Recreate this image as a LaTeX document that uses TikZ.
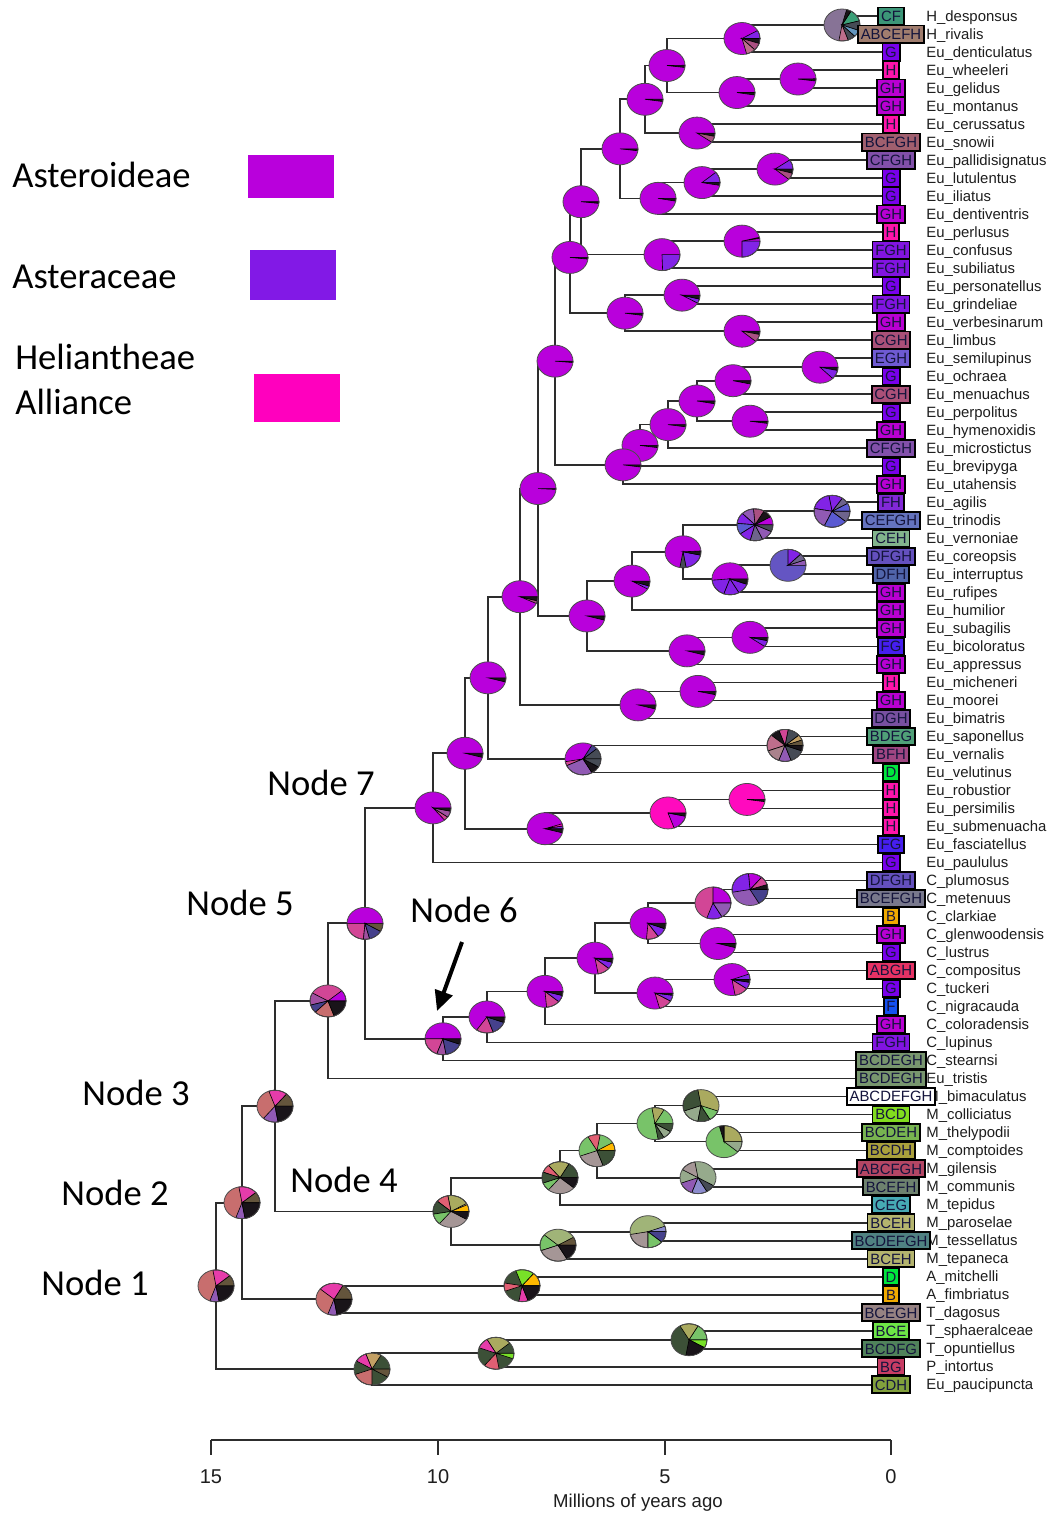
\documentclass[tikz,border=0pt]{standalone}
\usepackage{fontspec}
\setmainfont{Liberation Sans}
\newfontfamily\calfont{Carlito}
\usetikzlibrary{calc,arrows.meta}
% pie colours
\definecolor{cP}{RGB}{185,0,220}
\definecolor{cV}{RGB}{130,35,230}
\definecolor{cHP}{RGB}{255,10,190}
\definecolor{cK}{RGB}{25,20,25}
\definecolor{cM}{RGB}{170,80,130}
\definecolor{cPK}{RGB}{210,70,150}
\definecolor{cSL}{RGB}{200,110,110}
\definecolor{cLV}{RGB}{145,90,180}
\definecolor{cSB}{RGB}{100,85,195}
\definecolor{cGP}{RGB}{165,150,150}
\definecolor{cGR}{RGB}{120,195,105}
\definecolor{cKH}{RGB}{170,170,95}
\definecolor{cKG}{RGB}{160,180,120}
\definecolor{cDG}{RGB}{60,80,55}
\definecolor{cTE}{RGB}{60,160,120}
\definecolor{cBL}{RGB}{100,150,190}
\definecolor{cDK}{RGB}{70,75,85}
\definecolor{cPI}{RGB}{190,110,140}
\definecolor{cBU}{RGB}{90,90,210}
\definecolor{cMG}{RGB}{110,100,140}
\definecolor{cOR}{RGB}{255,185,0}
\definecolor{cLI}{RGB}{120,225,40}
\definecolor{cSA}{RGB}{225,95,115}
\definecolor{cTA}{RGB}{195,160,100}
\definecolor{cBR}{RGB}{100,85,60}
\definecolor{cGG}{RGB}{150,170,140}
\definecolor{cLB}{RGB}{140,140,205}
\definecolor{cDB}{RGB}{70,65,140}
\definecolor{cGPu}{RGB}{135,115,150}
\definecolor{cGPk}{RGB}{170,130,140}
\definecolor{cMv}{RGB}{160,80,160}
\definecolor{cHPk}{RGB}{230,60,170}
% range colours
\definecolor{rCF}{RGB}{60,150,120}
\definecolor{rABCEFH}{RGB}{160,125,110}
\definecolor{rG}{RGB}{120,0,235}
\definecolor{rH}{RGB}{255,20,170}
\definecolor{rGH}{RGB}{185,0,210}
\definecolor{rBCFGH}{RGB}{160,95,110}
\definecolor{rCFGH}{RGB}{130,80,170}
\definecolor{rFGH}{RGB}{130,20,225}
\definecolor{rCGH}{RGB}{170,80,120}
\definecolor{rEGH}{RGB}{110,90,210}
\definecolor{rFH}{RGB}{130,40,215}
\definecolor{rCEFGH}{RGB}{100,115,190}
\definecolor{rCEH}{RGB}{130,180,140}
\definecolor{rDFGH}{RGB}{100,80,190}
\definecolor{rDFH}{RGB}{80,100,170}
\definecolor{rFG}{RGB}{70,30,240}
\definecolor{rDGH}{RGB}{120,80,160}
\definecolor{rBDEG}{RGB}{80,160,120}
\definecolor{rBFH}{RGB}{160,70,130}
\definecolor{rD}{RGB}{0,230,60}
\definecolor{rB}{RGB}{240,170,0}
\definecolor{rBCEFGH}{RGB}{120,120,140}
\definecolor{rABGH}{RGB}{230,50,100}
\definecolor{rF}{RGB}{20,80,240}
\definecolor{rBCDEGH}{RGB}{120,150,110}
\definecolor{rABCDEFGH}{RGB}{255,255,255}
\definecolor{rBCD}{RGB}{130,220,30}
\definecolor{rBCDEH}{RGB}{120,180,80}
\definecolor{rBCDH}{RGB}{170,160,60}
\definecolor{rABCFGH}{RGB}{180,70,100}
\definecolor{rBCEFH}{RGB}{110,130,110}
\definecolor{rCEG}{RGB}{70,170,180}
\definecolor{rBCEH}{RGB}{180,180,110}
\definecolor{rBCDEFGH}{RGB}{80,130,130}
\definecolor{rBCEGH}{RGB}{150,130,130}
\definecolor{rBCE}{RGB}{110,230,70}
\definecolor{rBCDFG}{RGB}{80,130,90}
\definecolor{rBG}{RGB}{200,60,100}
\definecolor{rCDH}{RGB}{130,160,60}
\definecolor{treeline}{RGB}{45,45,45}
\definecolor{legA}{RGB}{185,0,220}
\definecolor{legB}{RGB}{130,25,230}
\definecolor{legC}{RGB}{255,0,190}
\definecolor{boxtext}{RGB}{20,20,60}
\definecolor{nametext}{RGB}{30,30,30}
\newcommand\nd[4]{\coordinate (#1) at ($(#2,0 |- #3)!0.5!(#2,0 |- #4)$);
  \draw[edge] (#1) |- (#3); \draw[edge] (#1) |- (#4);}
\newcommand\piec[3]{%
  \fill[#2] (#1) ellipse [x radius=18, y radius=16];
  \foreach \sa/\sb/\sc in {#3}{%
    \filldraw[fill=\sc, draw=black, line width=0.3pt] (#1) -- ++(\sa:18 and 16)
      arc[start angle=\sa, end angle=\sb, x radius=18, y radius=16] -- cycle;}
  \draw[draw=black!70, line width=0.4pt] (#1) ellipse [x radius=18, y radius=16];}
\begin{document}
\begin{tikzpicture}[x=0.5pt,y=0.5pt,
  edge/.style={draw=treeline, line width=0.85pt},
  tipbox/.style={draw=black, line width=0.9pt, inner xsep=1.4pt, inner ysep=0pt,
    minimum height=8.6pt, text height=5.35pt, text depth=0pt, text=boxtext,
    font=\fontsize{7.45}{8}\selectfont},
  tipname/.style={anchor=base west, inner sep=0pt, text=nametext, font=\fontsize{7.45}{8}\selectfont},
  biglabel/.style={anchor=west, inner sep=0pt, font=\calfont\fontsize{18.3}{22}\selectfont},
  legbox/.style={draw=none}]
\useasboundingbox (0,0) rectangle (1054,-1515);
\fill[white] (0,0) rectangle (1054,-1515);
% tips
\foreach \i in {1,...,77} \coordinate (t\i) at (891,{-(16+18.01*(\i-1))});
% internal nodes (parent from children)
\nd{a1}{842}{t1}{t2}
\nd{a2}{742}{a1}{t3}
\nd{a3}{798}{t4}{t5}
\nd{a4}{737}{a3}{t6}
\nd{a5}{667}{a2}{a4}
\nd{a6}{697}{t7}{t8}
\nd{a7}{645}{a5}{a6}
\nd{a8}{775}{t9}{t10}
\nd{a9}{702}{a8}{t11}
\nd{a10}{658}{a9}{t12}
\nd{a11}{620}{a7}{a10}
\nd{a12}{742}{t13}{t14}
\nd{a13}{662}{a12}{t15}
\nd{a14}{581}{a11}{a13}
\nd{a15}{682}{t16}{t17}
\nd{a16}{742}{t18}{t19}
\nd{a17}{625}{a15}{a16}
\nd{a18}{570}{a14}{a17}
\nd{b1}{820}{t20}{t21}
\nd{b2}{733}{b1}{t22}
\nd{b3}{750}{t23}{t24}
\nd{b4}{697}{b2}{b3}
\nd{b5}{668}{b4}{t25}
\nd{b6}{640}{b5}{t26}
\nd{b7}{623}{b6}{t27}
\nd{b8}{555}{a18}{b7}
\nd{c1}{832}{t28}{t29}
\nd{c2}{755}{c1}{t30}
\nd{c3}{788}{t31}{t32}
\nd{c4}{730}{c3}{t33}
\nd{c5}{683}{c2}{c4}
\nd{c6}{632}{c5}{t34}
\nd{c7}{750}{t35}{t36}
\nd{c8}{687}{c7}{t37}
\nd{c9}{587}{c6}{c8}
\nd{d1}{538}{b8}{c9}
\nd{c10}{698}{t38}{t39}
\nd{c11}{638}{c10}{t40}
\nd{d2}{520}{d1}{c11}
\nd{e1}{785}{t41}{t42}
\nd{e2}{583}{e1}{t43}
\nd{d3}{488}{d2}{e2}
\nd{e3}{747}{t44}{t45}
\nd{e4}{668}{e3}{t46}
\nd{e5}{545}{e4}{t47}
\nd{d4}{465}{d3}{e5}
\nd{n7}{433}{d4}{t48}
\nd{f1}{750}{t49}{t50}
\nd{f2}{713}{f1}{t51}
\nd{f3}{718}{t52}{t53}
\nd{f4}{648}{f2}{f3}
\nd{f5}{732}{t54}{t55}
\nd{f6}{655}{f5}{t56}
\nd{f7}{595}{f4}{f6}
\nd{f8}{545}{f7}{t57}
\nd{f9}{487}{f8}{t58}
\nd{n6}{443}{f9}{t59}
\nd{n5}{365}{n7}{n6}
\nd{g1}{328}{n5}{t60}
\nd{h1}{701}{t61}{t62}
\nd{h2}{724}{t63}{t64}
\nd{h3}{655}{h1}{h2}
\nd{h4}{698}{t65}{t66}
\nd{h5}{597}{h3}{h4}
\nd{h6}{560}{h5}{t67}
\nd{h7}{648}{t68}{t69}
\nd{h8}{558}{h7}{t70}
\nd{n4}{451}{h6}{h8}
\nd{n3}{275}{g1}{n4}
\nd{i1}{522}{t71}{t72}
\nd{i2}{334}{i1}{t73}
\nd{n2}{242}{n3}{i2}
\nd{j1}{689}{t74}{t75}
\nd{j2}{496}{j1}{t76}
\nd{j3}{372}{j2}{t77}
\nd{n1}{216}{n2}{j3}
% pies
\piec{a1}{cGPu}{15/60/cTE,60/75/cK,-20/15/cDK,-45/-20/cBL,-70/-45/cDK,-100/-70/cPI}
\piec{a2}{cP}{0/30/cV,-18/0/cK,-45/-18/cM,-75/-45/cPI}
\piec{a3}{cP}{-7/1/cK}
\piec{a4}{cP}{-9/0/cK}
\piec{a5}{cP}{-7/1/cK}
\piec{a6}{cP}{-12/0/cK,-35/-12/cM}
\piec{a7}{cP}{-8/0/cK}
\piec{a8}{cP}{0/35/cV,-15/0/cK,-40/-15/cM}
\piec{a9}{cP}{0/40/cV,-10/0/cK}
\piec{a10}{cP}{-10/0/cK}
\piec{a11}{cP}{-7/0/cK}
\piec{a12}{cP}{-90/0/cV,10/14/cHP}
\piec{a13}{cP}{-88/0/cV}
\piec{a14}{cP}{-6/0/cK}
\piec{a15}{cP}{-30/-14/cV,-14/0/cK}
\piec{a16}{cP}{-12/0/cK,-40/-12/cM}
\piec{a17}{cP}{-8/0/cK}
\piec{a18}{cP}{-6/0/cK}
\piec{b1}{cP}{-12/0/cK,-45/-12/cV}
\piec{b2}{cP}{-12/0/cK}
\piec{b3}{cP}{-8/0/cK}
\piec{b4}{cP}{-10/0/cK}
\piec{b5}{cP}{-8/0/cK}
\piec{b6}{cP}{-8/0/cK}
\piec{b7}{cP}{-8/0/cK}
\piec{b8}{cP}{-5/0/cK}
\piec{c1}{cV}{0/30/cBU,30/55/cMG,55/100/cV,100/170/cV,170/245/cLV,245/320/cBU,320/360/cMG}
\piec{c2}{cP}{30/60/cK,60/95/cM,95/135/cLV,135/175/cV,175/215/cBU,215/255/cV,255/295/cMG,295/335/cLV,335/360/cDK}
\piec{c3}{cSB}{0/20/cLV,20/45/cMG,45/90/cV}
\piec{c4}{cP}{185/250/cV,250/300/cV,300/340/cV,340/360/cK}
\piec{c5}{cP}{-80/-12/cV,-12/3/cK,-100/-80/cDK}
\piec{c6}{cP}{-30/-18/cV,-18/0/cK}
\piec{c7}{cP}{-35/-12/cV,-12/0/cK}
\piec{c8}{cP}{-15/0/cK}
\piec{c9}{cP}{-15/0/cK}
\piec{c10}{cP}{-12/0/cK}
\piec{c11}{cP}{-15/0/cK}
\piec{d1}{cP}{-3/0/cK}
\piec{d2}{cP}{-25/-15/cM,-15/0/cK}
\piec{d3}{cP}{-15/0/cK}
\piec{d4}{cP}{-15/0/cK}
\piec{e1}{cDK}{0/20/cBR,20/40/cTA,40/80/cDK,80/110/cPK,110/140/cK,140/200/cPI,200/250/cGPk,250/290/cLV,290/340/cDK,340/360/cK}
\piec{e2}{cP}{0/40/cDK,40/60/cDB,190/205/cPK,205/300/cLV,300/330/cK,330/360/cDK}
\piec{e3}{cHP}{-8/0/cK}
\piec{e4}{cHP}{-70/-12/cP,-12/0/cK}
\piec{e5}{cP}{-15/0/cK,0/10/cV,10/18/cHP}
\piec{n7}{cP}{-50/-35/cPK,-35/-12/cMv,-12/0/cK}
\piec{f1}{cLV}{0/18/cK,18/50/cPK,50/95/cP,95/190/cV,300/360/cDB}
\piec{f2}{cPK}{0/90/cP,250/300/cV,300/360/cLV}
\piec{f3}{cP}{-15/0/cK}
\piec{f4}{cP}{-95/-55/cPK,-55/-20/cV,-20/0/cK}
\piec{f5}{cP}{-80/-35/cPK,-35/-10/cV,-10/0/cK,0/20/cV}
\piec{f6}{cP}{-75/-30/cPK,-30/-8/cV,-8/0/cK}
\piec{f7}{cP}{-80/-40/cPK,-40/-15/cV,-15/0/cK}
\piec{f8}{cP}{-85/-40/cPK,-40/-15/cV,-15/0/cK}
\piec{f9}{cP}{235/290/cPK,290/340/cDB,340/360/cK}
\piec{n6}{cP}{180/250/cPK,250/280/cMv,280/340/cDB,340/360/cK}
\piec{n5}{cP}{180/265/cPK,265/285/cMv,285/330/cDB,330/360/cBR}
\piec{g1}{cPK}{0/40/cP,150/195/cMv,195/225/cDB,225/290/cSL,290/360/cK}
\piec{n3}{cSL}{0/50/cBR,50/110/cHPk,230/280/cLV,280/360/cK}
\piec{n2}{cSL}{0/40/cBR,40/100/cHPk,250/280/cLV,280/360/cK}
\piec{n1}{cSL}{0/40/cBR,40/100/cHPk,250/280/cLV,280/360/cK}
\piec{i2}{cSL}{0/60/cBR,60/140/cHPk,250/280/cLV,280/360/cK}
\piec{i1}{cDG}{0/50/cOR,50/110/cLI,170/200/cSA,260/290/cHPk,290/360/cK}
\piec{j3}{cDG}{60/110/cTA,110/150/cHPk,200/270/cSL,330/360/cBR}
\piec{j2}{cDG}{40/120/cKH,120/160/cHPk,230/280/cSA,340/360/cLI}
\piec{j1}{cDG}{-30/0/cLI,0/60/cGR,60/120/cKH,260/330/cK}
\piec{n4}{cGP}{0/25/cOR,30/100/cKH,100/140/cSA,140/190/cDG,190/230/cGR,330/360/cK}
\piec{h6}{cGP}{0/60/cDG,60/130/cKH,130/160/cSA,160/200/cDG,200/230/cGR,320/360/cK}
\piec{h5}{cGR}{0/30/cOR,80/120/cSA,200/290/cGP,290/360/cDG}
\piec{h3}{cGR}{60/100/cKH,280/300/cDG,300/330/cGG,330/360/cDG}
\piec{h1}{cKH}{100/200/cDG,200/260/cGG,260/300/cDG,300/340/cGR}
\piec{h2}{cGR}{-40/0/cGG,0/90/cKH,90/105/cK}
\piec{h4}{cGG}{100/150/cGP,200/250/cLV,250/300/cLB,300/330/cDK}
\piec{h8}{cKG}{0/30/cBR,140/200/cGR,200/300/cGP,300/360/cK}
\piec{h7}{cKG}{0/20/cLB,190/270/cGP,270/320/cGR,320/360/cDB}
% tip names and range boxes
\foreach \i/\rng/\nm in {1/CF/H\_desponsus,2/ABCEFH/H\_rivalis,3/G/Eu\_denticulatus,4/H/Eu\_wheeleri,5/GH/Eu\_gelidus,6/GH/Eu\_montanus,7/H/Eu\_cerussatus,8/BCFGH/Eu\_snowii,9/CFGH/Eu\_pallidisignatus,10/G/Eu\_lutulentus,11/G/Eu\_iliatus,12/GH/Eu\_dentiventris,13/H/Eu\_perlusus,14/FGH/Eu\_confusus,15/FGH/Eu\_subiliatus,16/G/Eu\_personatellus,17/FGH/Eu\_grindeliae,18/GH/Eu\_verbesinarum,19/CGH/Eu\_limbus,20/EGH/Eu\_semilupinus,21/G/Eu\_ochraea,22/CGH/Eu\_menuachus,23/G/Eu\_perpolitus,24/GH/Eu\_hymenoxidis,25/CFGH/Eu\_microstictus,26/G/Eu\_brevipyga,27/GH/Eu\_utahensis,28/FH/Eu\_agilis,29/CEFGH/Eu\_trinodis,30/CEH/Eu\_vernoniae,31/DFGH/Eu\_coreopsis,32/DFH/Eu\_interruptus,33/GH/Eu\_rufipes,34/GH/Eu\_humilior,35/GH/Eu\_subagilis,36/FG/Eu\_bicoloratus,37/GH/Eu\_appressus,38/H/Eu\_micheneri,39/GH/Eu\_moorei,40/DGH/Eu\_bimatris,41/BDEG/Eu\_saponellus,42/BFH/Eu\_vernalis,43/D/Eu\_velutinus,44/H/Eu\_robustior,45/H/Eu\_persimilis,46/H/Eu\_submenuacha,47/FG/Eu\_fasciatellus,48/G/Eu\_paululus,49/DFGH/C\_plumosus,50/BCEFGH/C\_metenuus,51/B/C\_clarkiae,52/GH/C\_glenwoodensis,53/G/C\_lustrus,54/ABGH/C\_compositus,55/G/C\_tuckeri,56/F/C\_nigracauda,57/GH/C\_coloradensis,58/FGH/C\_lupinus,59/BCDEGH/C\_stearnsi,60/BCDEGH/Eu\_tristis,61/ABCDEFGH/M\_bimaculatus,62/BCD/M\_colliciatus,63/BCDEH/M\_thelypodii,64/BCDH/M\_comptoides,65/ABCFGH/M\_gilensis,66/BCEFH/M\_communis,67/CEG/M\_tepidus,68/BCEH/M\_paroselae,69/BCDEFGH/M\_tessellatus,70/BCEH/M\_tepaneca,71/D/A\_mitchelli,72/B/A\_fimbriatus,73/BCEGH/T\_dagosus,74/BCE/T\_sphaeralceae,75/BCDFG/T\_opuntiellus,76/BG/P\_intortus,77/CDH/Eu\_paucipuncta}{
  \node[tipname] (nm\i) at ($(926,0 |- t\i)+(0,-5)$) {\nm};
  \node[tipbox, fill=r\rng] (bx\i) at (t\i) {\rng};
}
% legend
\fill[legA] (248,-155) rectangle (334,-198);
\fill[legB] (250,-250) rectangle (336,-300);
\fill[legC] (254,-374) rectangle (340,-422);
\node[biglabel] (lgA) at (12,-175) {Asteroideae};
\node[biglabel] (lgB) at (12,-277) {Asteraceae};
\node[biglabel] (lgC) at (15,-357) {Heliantheae};
\node[biglabel] (lgD) at (15,-402) {Alliance};
% node labels
\node[biglabel] (L1) at (41,-1283) {Node 1};
\node[biglabel] (L2) at (61,-1193) {Node 2};
\node[biglabel] (L3) at (82,-1093) {Node 3};
\node[biglabel] (L4) at (290,-1180) {Node 4};
\node[biglabel] (L5) at (186,-903) {Node 5};
\node[biglabel] (L6) at (410,-910) {Node 6};
\node[biglabel] (L7) at (267,-783) {Node 7};
\coordinate (arS) at (462,-942);
\coordinate (arE) at (437,-1011);
\draw[line width=2pt, -{Triangle[length=10pt,width=9pt]}] (arS) -- (arE);
% axis
\coordinate (ax15) at (211,-1440);
\coordinate (ax10) at (438,-1440);
\coordinate (ax5) at (665,-1440);
\coordinate (ax0) at (891,-1440);
\draw[treeline, line width=0.75pt] (ax15) -- (ax0);
\foreach \p/\v in {ax15/15,ax10/10,ax5/5,ax0/0}{
  \draw[treeline, line width=0.75pt] (\p) -- ++(0,-15);
  \node[font=\fontsize{10}{12}\selectfont, text=nametext, inner sep=0pt] (lab\p) at ($(\p)+(0,-37)$) {\v};
}
\node[font=\fontsize{9.3}{11}\selectfont, text=nametext, inner sep=0pt] (axtitle) at (638,-1503) {Millions of years ago};
\end{tikzpicture}
\end{document}
